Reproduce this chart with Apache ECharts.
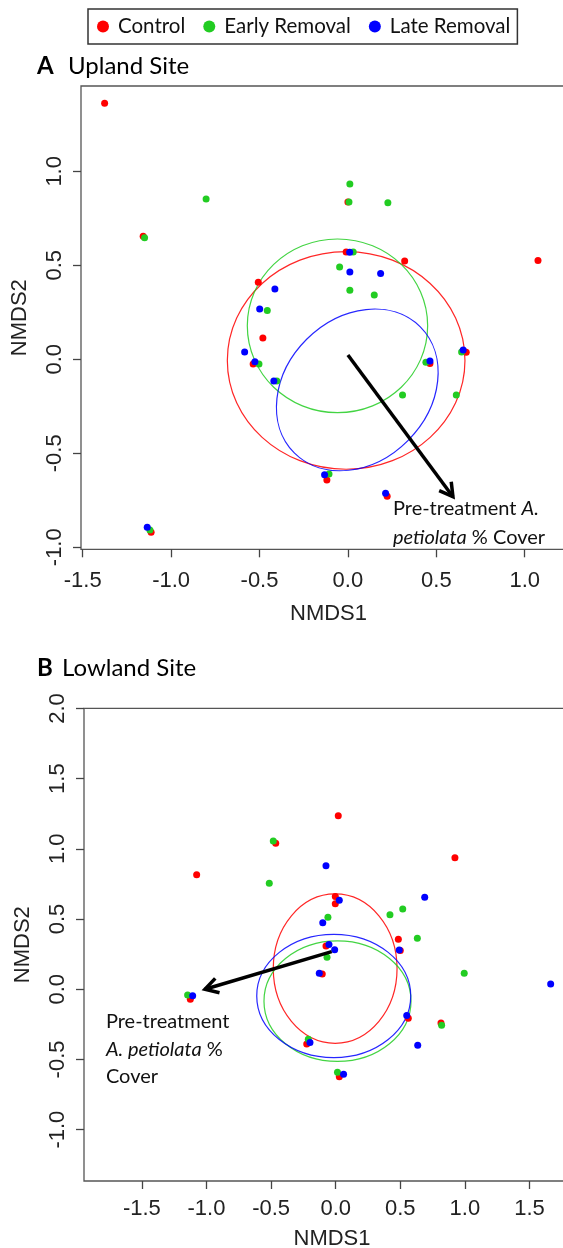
<!DOCTYPE html>
<html>
<head>
<meta charset="utf-8">
<script src="https://cdn.jsdelivr.net/npm/echarts@6/dist/echarts.min.js"></script>
<style>
html, body { margin: 0; padding: 0; background: #fff; }
#chart { width: 563px; height: 1248px; }
</style>
</head>
<body>
<div id="chart"></div>
<script>
const groups = ["Control", "Early Removal", "Late Removal"];
const groupColors = ["#ff0000", "#22cc22", "#0000ff"];

// A: upland site scores [NMDS1, NMDS2]
const uplandControl = [[-1.376, 1.362], [-1.158, 0.654], [-0.507, 0.410], [0.000, 0.837], [-0.010, 0.571],
  [0.321, 0.523], [1.075, 0.526], [-0.481, 0.113], [-0.536, -0.025], [-1.113, -0.920], [0.669, 0.037],
  [0.464, -0.023], [-0.119, -0.642], [0.222, -0.729]];
const uplandEarly = [[-0.802, 0.853], [-1.150, 0.647], [-0.456, 0.259], [0.011, 0.932], [0.006, 0.837],
  [0.226, 0.833], [0.030, 0.571], [-0.047, 0.491], [0.011, 0.367], [0.149, 0.342], [-0.503, -0.025],
  [-0.402, -0.115], [-1.120, -0.908], [0.643, 0.039], [0.441, -0.016], [0.309, -0.190], [0.613, -0.190],
  [-0.107, -0.610]];
const uplandLate = [[-0.413, 0.374], [-0.499, 0.268], [0.010, 0.569], [0.011, 0.464], [0.185, 0.457],
  [-0.584, 0.039], [-0.526, -0.013], [-0.419, -0.115], [-1.135, -0.894], [0.652, 0.049], [0.464, -0.009],
  [-0.132, -0.614], [0.213, -0.713]];
// ellipses: [centre x, centre y, radius x, radius y, tilt deg]
const uplandEllipses = [[-0.010, -0.006, 0.672, 0.579, 0], [-0.059, 0.178, 0.510, 0.462, 0], [0.053, -0.163, 0.504, 0.381, 45]];
// fitted vector: [x0, y0, x1, y1]
const uplandArrow = [0.000, 0.023, 0.594, -0.731];

// B: lowland site scores
const lowlandControl = [[-1.076, 0.816], [-0.464, 1.040], [0.020, 1.236], [0.923, 0.937], [-0.003, 0.660],
  [-0.003, 0.608], [0.485, 0.356], [0.500, 0.275], [-0.075, 0.308], [-0.104, 0.109], [0.562, -0.207],
  [0.815, -0.240], [-0.224, -0.390], [-1.125, -0.071], [0.028, -0.624]];
const lowlandEarly = [[-0.483, 1.056], [-0.514, 0.755], [0.519, 0.572], [0.420, 0.531], [-0.060, 0.513],
  [0.632, 0.363], [-0.067, 0.228], [0.995, 0.114], [0.820, -0.256], [-0.212, -0.356], [-1.146, -0.041],
  [0.014, -0.591]];
const lowlandLate = [[-0.075, 0.880], [0.689, 0.655], [0.028, 0.634], [-0.100, 0.474], [0.492, 0.280],
  [-0.052, 0.318], [-0.008, 0.282], [-0.127, 0.114], [1.664, 0.038], [0.550, -0.188], [0.635, -0.399],
  [-0.199, -0.380], [-1.107, -0.046], [0.061, -0.606]];
const lowlandEllipses = [[-0.004, 0.147, 0.479, 0.532, 0], [0.014, -0.085, 0.569, 0.429, 0], [-0.015, -0.048, 0.596, 0.439, 0]];
const lowlandArrow = [-0.031, 0.268, -1.012, 0.000];

// ticks
const xTicksA = [-1.5, -1.0, -0.5, 0.0, 0.5, 1.0];
const yTicksA = [-1.0, -0.5, 0.0, 0.5, 1.0];
const xTicksB = [-1.5, -1.0, -0.5, 0.0, 0.5, 1.0, 1.5];
const yTicksB = [-1.0, -0.5, 0.0, 0.5, 1.0, 1.5, 2.0];

const axisFont = "'Liberation Sans', Arial, sans-serif";
const textFont = "Lato, 'Open Sans', sans-serif";

function xAxisOf(grid, min, max, ticks, margin, gap) {
  return {
    type: "value", gridIndex: grid, min: min, max: max,
    name: "NMDS1", nameLocation: "middle", nameGap: gap,
    nameTextStyle: { fontFamily: axisFont, fontSize: 22, color: "#222" },
    axisLine: { show: false, onZero: false },
    splitLine: { show: false },
    axisTick: { show: true, length: 8, customValues: ticks, lineStyle: { color: "#444", width: 1.3 } },
    axisLabel: { customValues: ticks, margin: margin, formatter: v => v.toFixed(1),
      fontFamily: axisFont, fontSize: 22, color: "#222" }
  };
}
function yAxisOf(grid, min, max, ticks) {
  return {
    type: "value", gridIndex: grid, min: min, max: max,
    name: "NMDS2", nameLocation: "middle", nameGap: 50, nameRotate: 90,
    nameTextStyle: { fontFamily: axisFont, fontSize: 22, color: "#222" },
    axisLine: { show: false, onZero: false },
    splitLine: { show: false },
    axisTick: { show: true, length: 8, customValues: ticks, lineStyle: { color: "#444", width: 1.3 } },
    axisLabel: { customValues: ticks, margin: 15, rotate: 90, formatter: v => v.toFixed(1),
      fontFamily: axisFont, fontSize: 22, color: "#222" }
  };
}

function ellipseItem(params, api) {
  const c = api.coord([api.value(0), api.value(1)]);
  const s = api.size([api.value(2), api.value(3)]);
  return {
    type: "ellipse",
    x: c[0], y: c[1],
    rotation: api.value(4) * Math.PI / 180,
    shape: { cx: 0, cy: 0, rx: s[0], ry: s[1] },
    style: { fill: null, stroke: groupColors[params.dataIndex], lineWidth: 1.2, opacity: 0.85 }
  };
}

function arrowRender(label, dx, dy, lh) {
  return function (params, api) {
    const p0 = api.coord([api.value(0), api.value(1)]);
    const p1 = api.coord([api.value(2), api.value(3)]);
    const ang = Math.atan2(p1[1] - p0[1], p1[0] - p0[0]);
    const L = 15, sp = Math.PI / 6;
    const h1 = [p1[0] - L * Math.cos(ang - sp), p1[1] - L * Math.sin(ang - sp)];
    const h2 = [p1[0] - L * Math.cos(ang + sp), p1[1] - L * Math.sin(ang + sp)];
    return {
      type: "group",
      children: [
        { type: "line", shape: { x1: p0[0], y1: p0[1], x2: p1[0], y2: p1[1] },
          style: { stroke: "#000", lineWidth: 3.5 } },
        { type: "polyline", shape: { points: [h1, p1, h2] },
          style: { stroke: "#000", lineWidth: 3.5, fill: null } },
        { type: "text", x: p1[0] + dx, y: p1[1] + dy,
          style: { text: label, align: "left", verticalAlign: "top",
            fontFamily: textFont, fontSize: 20, fill: "#111", lineHeight: lh,
            rich: {
              n: { fontFamily: textFont, fontSize: 20, lineHeight: lh, fill: "#111" },
              i: { fontFamily: textFont, fontSize: 20, fontStyle: "italic", lineHeight: lh, fill: "#111" }
            } } }
      ]
    };
  };
}

function scatter(name, data, grid, color) {
  return {
    type: "scatter", name: name, data: data,
    xAxisIndex: grid, yAxisIndex: grid,
    symbol: "circle", symbolSize: 7,
    itemStyle: { color: color, opacity: 1 },
    emphasis: { disabled: true }
  };
}

const titleRich = (w) => ({
  b: { fontFamily: textFont, fontWeight: "bold", fontSize: 24, lineHeight: 28, width: w, color: "#000" },
  n: { fontFamily: textFont, fontWeight: "normal", fontSize: 24, lineHeight: 28, color: "#000" }
});

const chart = echarts.init(document.getElementById("chart"));
chart.setOption({
  animation: false,
  backgroundColor: "#fff",
  title: [
    { left: 37, top: 52, padding: 0, text: "{b|A}{n|Upland Site}", textStyle: { rich: titleRich(31) } },
    { left: 37, top: 654, padding: 0, text: "{b|B}{n|Lowland Site}", textStyle: { rich: titleRich(25) } }
  ],
  legend: {
    data: groups, left: 88, top: 9, orient: "horizontal",
    icon: "circle", itemWidth: 20, itemHeight: 12, itemGap: 18,
    padding: [7, 7, 7, 9], borderColor: "#333", borderWidth: 1.5,
    textStyle: { fontFamily: textFont, fontSize: 20.5, color: "#111" }
  },
  grid: [
    { left: 81, top: 86, width: 495, height: 463.3, show: true, borderColor: "#555", borderWidth: 1.3,
      backgroundColor: "transparent", outerBoundsMode: "none" },
    { left: 84, top: 708.3, width: 496, height: 472.7, show: true, borderColor: "#555", borderWidth: 1.3,
      backgroundColor: "transparent", outerBoundsMode: "none" }
  ],
  xAxis: [xAxisOf(0, -1.5096, 1.290, xTicksA, 21, 54), xAxisOf(1, -1.948, 1.891, xTicksB, 17, 47)],
  yAxis: [yAxisOf(0, -1.011, 1.454, yTicksA), yAxisOf(1, -1.366, 2.001, yTicksB)],
  series: [
    { type: "custom", name: "ellipsesA", xAxisIndex: 0, yAxisIndex: 0, renderItem: ellipseItem, data: uplandEllipses, silent: true },
    { type: "custom", name: "ellipsesB", xAxisIndex: 1, yAxisIndex: 1, renderItem: ellipseItem, data: lowlandEllipses, silent: true },
    scatter(groups[0], uplandControl, 0, groupColors[0]),
    scatter(groups[1], uplandEarly, 0, groupColors[1]),
    scatter(groups[2], uplandLate, 0, groupColors[2]),
    scatter(groups[0], lowlandControl, 1, groupColors[0]),
    scatter(groups[1], lowlandEarly, 1, groupColors[1]),
    scatter(groups[2], lowlandLate, 1, groupColors[2]),
    { type: "custom", name: "vectorA", xAxisIndex: 0, yAxisIndex: 0, silent: true, z: 5, data: [uplandArrow],
      renderItem: arrowRender("{n|Pre-treatment }{i|A.}\n{i|petiolata}{n| % Cover}", -60, -3, 29) },
    { type: "custom", name: "vectorB", xAxisIndex: 1, yAxisIndex: 1, silent: true, z: 5, data: [lowlandArrow],
      renderItem: arrowRender("{n|Pre-treatment}\n{i|A. petiolata}{n| %}\n{n|Cover}", -99, 18.7, 27.5) }
  ]
});
</script>
</body>
</html>
